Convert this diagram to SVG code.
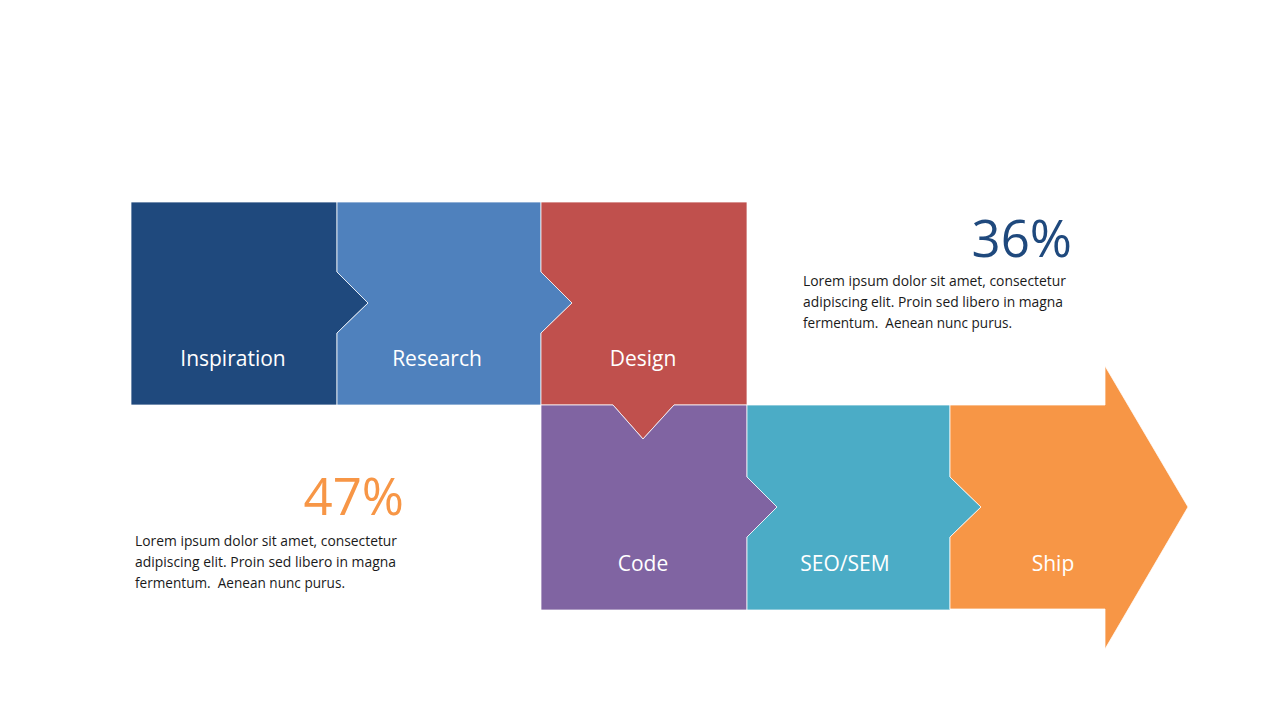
<svg xmlns="http://www.w3.org/2000/svg" width="1280" height="720" viewBox="0 0 1280 720">
<style>
.shape{stroke:#ffffff;stroke-opacity:0.75;stroke-width:1;stroke-linejoin:miter}
.lbl{font-family:"Open Sans","Noto Sans","Liberation Sans",sans-serif;font-size:21px;fill:#ffffff;text-anchor:middle}
.body{font-family:"Open Sans","Noto Sans","Liberation Sans",sans-serif;font-size:15px;fill:#1a1a1a;white-space:pre}
.pct{font-family:"Open Sans","Noto Sans","Liberation Sans",sans-serif;font-size:51px;text-anchor:end}
</style>
<rect width="1280" height="720" fill="#ffffff"/>
<g id="connectors"/>
<g id="node-inspiration">
<polygon class="shape" fill="#1F497D" points="131,202 337,202 337,272 368,303 337,333 337,405 131,405"/>
<text class="lbl" x="233" y="366">Inspiration</text>
</g>
<g id="node-research">
<polygon class="shape" fill="#4F81BD" points="337,202 541,202 541,272 572,303 541,333 541,405 337,405 337,333 368,303 337,272"/>
<text class="lbl" x="437" y="366">Research</text>
</g>
<g id="node-design">
<polygon class="shape" fill="#C0504D" points="541,202 747,202 747,405 674,405 643,439 613,405 541,405 541,333 572,303 541,272"/>
<text class="lbl" x="643" y="366">Design</text>
</g>
<g id="node-code">
<polygon class="shape" fill="#8064A2" points="541,405 613,405 643,439 674,405 747,405 747,477 777,507 747,537 747,610 541,610"/>
<text class="lbl" x="643" y="571">Code</text>
</g>
<g id="node-seo">
<polygon class="shape" fill="#4BACC6" points="747,405 950,405 950,477 981,507 950,537 950,610 747,610 747,537 777,507 747,477"/>
<text class="lbl" x="845" y="571">SEO/SEM</text>
</g>
<g id="node-ship">
<polygon class="shape" fill="#F79646" points="950,405 1105,405 1105,366 1188,507 1105,649 1105,609 950,609 950,537 981,507 950,477"/>
<text class="lbl" x="1053" y="571">Ship</text>
</g>
<g id="stat-36">
<text class="pct" fill="#1F497D" x="1072" y="257">36%</text>
<text class="body" x="803" y="286" textLength="263" lengthAdjust="spacingAndGlyphs">Lorem ipsum dolor sit amet, consectetur</text>
<text class="body" x="803" y="307" textLength="260" lengthAdjust="spacingAndGlyphs">adipiscing elit. Proin sed libero in magna</text>
<text class="body" x="803" y="328" textLength="209" lengthAdjust="spacingAndGlyphs">fermentum.  Aenean nunc purus.</text>
</g>
<g id="stat-47">
<text class="pct" fill="#F79646" x="404" y="515">47%</text>
<text class="body" x="135" y="546" textLength="262" lengthAdjust="spacingAndGlyphs">Lorem ipsum dolor sit amet, consectetur</text>
<text class="body" x="135" y="567" textLength="261" lengthAdjust="spacingAndGlyphs">adipiscing elit. Proin sed libero in magna</text>
<text class="body" x="135" y="588" textLength="210" lengthAdjust="spacingAndGlyphs">fermentum.  Aenean nunc purus.</text>
</g>
</svg>
